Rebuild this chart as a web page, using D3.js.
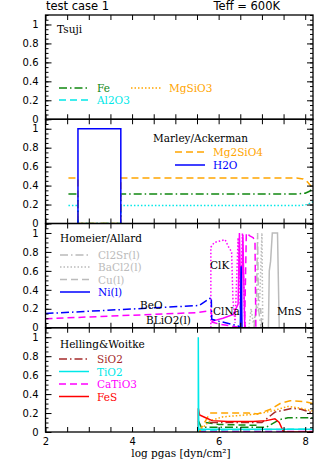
<!DOCTYPE html>
<html>
<head>
<meta charset="utf-8">
<script src="https://cdn.jsdelivr.net/npm/d3@7"></script>
<style>
  body { margin: 0; background: #fff; }
  svg text { font-family: "DejaVu Serif", serif; font-size: 10.5px; }
  .axis text { font-family: "DejaVu Sans", sans-serif; font-size: 10px; fill: #000; }
  .title { font-family: "DejaVu Sans", sans-serif; font-size: 11.5px; }
</style>
</head>
<body>
<div id="plot"></div>
<script>
const CANVAS_WIDTH  = 316;
const CANVAS_HEIGHT = 466;
const LEFT          = 45.5;
const RIGHT         = 313;
const TOP           = 15;
const PANEL_H       = 104.25;

// ticks
var xTicks      = d3.range(2, 8.01, 0.5);
var xTickLabels = [2, 4, 6, 8];
var yMajor      = [0, 0.2, 0.4, 0.6, 0.8, 1];
var yMinor      = d3.range(0, 1.101, 0.05);

// Marley/Ackerman  [log pgas, fraction]
var maMg2SiO4 = [[2.53,0.48],[2.75,0.48],[2.75,0],[3.74,0],[3.74,0.48],[7.8,0.48],[7.95,0.47],[8.05,0.44],[8.12,0.40],[8.18,0.37]];
var maFe      = [[2.53,0.31],[2.75,0.31],[2.75,0],[3.74,0],[3.74,0.31],[7.8,0.31],[8.0,0.32],[8.1,0.34],[8.18,0.37]];
var maAl2O3   = [[2.53,0.19],[2.75,0.19],[2.75,0],[3.74,0],[3.74,0.19],[7.9,0.19],[8.05,0.20],[8.18,0.23]];
var maH2O     = [[2.75,0],[2.75,1],[3.74,1],[3.74,0]];

// Homeier/Allard
var haBeO    = [[2,0.15],[5.55,0.235],[5.83,0.32],[5.84,0.09],[6.0,0.07],[6.45,0.02],[6.5,0]];
var haBLiO2  = [[2,0.095],[5.5,0.16],[5.83,0.18],[5.85,0.06],[6.0,0.04],[6.4,0.01],[6.5,0],[6.6,0],[6.64,1.0],[6.72,0.97],[6.8,0.95],[6.84,0.9],[6.86,0]];
var haClK    = [[5.82,0],[5.82,0.85],[5.9,0.9],[6.15,0.93],[6.22,0.86],[6.3,0.8],[6.33,0.3],[6.38,0.05],[6.45,0.95],[6.5,0.2],[6.55,1.0],[6.6,0.1],[6.62,0]];
var haClNa   = [[5.85,0.07],[6.1,0.1],[6.34,0.14],[6.45,0.25],[6.48,1.0],[6.52,0.1],[6.56,0.98],[6.6,0.05],[6.62,0]];
var haCl2Sr  = [[6.82,0],[6.87,0.2],[6.9,1.0],[6.92,0.2],[6.98,0]];
var haBaCl2  = [[6.7,0],[6.75,0.2],[6.8,0.05],[6.95,0.3],[7.0,1.0],[7.02,0]];
var haCu     = [[6.82,0],[6.86,0.2],[6.97,0.2],[7.0,0]];
var haMnS    = [[7.15,0],[7.17,0.6],[7.2,0.7],[7.24,1.0],[7.36,1.0],[7.4,0]];
var haNi     = [[2,0],[6.5,0],[6.52,0.65],[6.54,0],[8.18,0]];

// Helling&Woitke
var hwTiO2    = [[5.53,0],[5.53,1.0],[5.54,0.03],[8.18,0.03]];
var hwAl2O3   = [[5.55,0.02],[8.1,0.03]];
var hwCaTiO3  = [[5.55,0.005],[8.18,0.005]];
var hwFeS     = [[5.53,0],[5.53,0.25],[5.56,0.18],[5.7,0.15],[5.85,0.12],[6.2,0.11],[6.8,0.11],[7.1,0.12],[7.3,0.14],[7.4,0.1],[7.5,0],[8.18,0]];
var hwMg2SiO4 = [[5.55,0],[5.7,0.12],[5.8,0.2],[6.7,0.2],[6.9,0.19],[7.2,0.24],[7.42,0.3],[7.65,0.33],[8.0,0.32],[8.18,0.3]];
var hwMgSiO3  = [[5.6,0.03],[5.8,0.12],[6.1,0.16],[6.9,0.19],[7.3,0.23],[7.6,0.27],[7.9,0.25],[8.18,0.22]];
var hwSiO2    = [[5.8,0.1],[7.0,0.1],[7.3,0.21],[7.7,0.25],[7.9,0.24],[8.18,0.2]];
var hwFe      = [[5.53,0.12],[5.6,0.05],[7.1,0.05],[7.4,0.13],[7.6,0.15],[8.18,0.15]];
var hwFeDash  = [[5.7,0.1],[6.0,0.08],[6.9,0.07]];

const STYLE = {
    solid:   null,
    dashed:  "7,4",
    dotted:  "1.5,2",
    dashdot: "8,3,1.5,3"
};

var panels = [
    { name: "Tsuji", lx: 57, ly: 33,
      series: [],
      legend: [
        { text: "Fe",     color: "#118811", style: "dashdot", x: 59,  y: 88 },
        { text: "Al2O3",  color: "#00e8e8", style: "dashed",  x: 59,  y: 100 },
        { text: "MgSiO3", color: "#ffa500", style: "dotted",  x: 131, y: 88 }
      ],
      notes: [] },
    { name: "Marley/Ackerman", lx: 153, ly: 142,
      series: [
        { data: maAl2O3,   color: "#00e8e8", style: "dotted" },
        { data: maFe,      color: "#118811", style: "dashdot" },
        { data: maMg2SiO4, color: "#ffa500", style: "dashed" },
        { data: maH2O,     color: "#0000ff", style: "solid" }
      ],
      legend: [
        { text: "Mg2SiO4", color: "#ffa500", style: "dashed", x: 175, y: 152 },
        { text: "H2O",     color: "#0000ff", style: "solid",  x: 175, y: 165 }
      ],
      notes: [] },
    { name: "Homeier/Allard", lx: 60, ly: 242,
      series: [
        { data: haCl2Sr, color: "#bbbbbb", style: "dashdot" },
        { data: haBaCl2, color: "#bbbbbb", style: "dotted" },
        { data: haCu,    color: "#bbbbbb", style: "dashed" },
        { data: haMnS,   color: "#bbbbbb", style: "solid" },
        { data: haClK,   color: "#ff00ff", style: "dotted" },
        { data: haClNa,  color: "#ff00ff", style: "solid" },
        { data: haBLiO2, color: "#ff00ff", style: "dashed" },
        { data: haBeO,   color: "#0000ff", style: "dashdot" },
        { data: haNi,    color: "#0000ff", style: "solid" }
      ],
      legend: [
        { text: "Cl2Sr(l)", color: "#bbbbbb", style: "dashdot", x: 60, y: 255 },
        { text: "BaCl2(l)", color: "#bbbbbb", style: "dotted",  x: 60, y: 267 },
        { text: "Cu(l)",    color: "#bbbbbb", style: "dashed",  x: 60, y: 279.5 },
        { text: "Ni(l)",    color: "#0000ff", style: "solid",   x: 60, y: 292 }
      ],
      notes: [
        { text: "BeO",      x: 140, y: 309 },
        { text: "BLiO2(l)", x: 146, y: 324 },
        { text: "ClK",      x: 210, y: 269 },
        { text: "ClNa",     x: 213, y: 315 },
        { text: "MnS",      x: 277, y: 315 }
      ] },
    { name: "Helling&Woitke", lx: 60, ly: 348,
      series: [
        { data: hwCaTiO3,  color: "#ff00ff", style: "dashed" },
        { data: hwAl2O3,   color: "#00e8e8", style: "dashed" },
        { data: hwFeDash,  color: "#118811", style: "dashed" },
        { data: hwFe,      color: "#118811", style: "dashdot" },
        { data: hwSiO2,    color: "#a52a2a", style: "dashdot" },
        { data: hwMgSiO3,  color: "#ffa500", style: "dotted" },
        { data: hwMg2SiO4, color: "#ffa500", style: "dashed" },
        { data: hwFeS,     color: "#ff0000", style: "solid" },
        { data: hwTiO2,    color: "#00e8e8", style: "solid" }
      ],
      legend: [
        { text: "SiO2",   color: "#a52a2a", style: "dashdot", x: 59, y: 359 },
        { text: "TiO2",   color: "#00e8e8", style: "solid",   x: 59, y: 371.5 },
        { text: "CaTiO3", color: "#ff00ff", style: "dashed",  x: 59, y: 384 },
        { text: "FeS",    color: "#ff0000", style: "solid",   x: 59, y: 396.5 }
      ],
      notes: [] }
];

var svg = d3.select("#plot")
            .append("svg")
            .attr("width", CANVAS_WIDTH)
            .attr("height", CANVAS_HEIGHT);

var x_scale = d3.scaleLinear().domain([2, 8.18]).range([LEFT, RIGHT]);

svg.append("text").attr("class", "title")
   .attr("x", 46).attr("y", 10).text("test case 1");
svg.append("text").attr("class", "title")
   .attr("x", 280).attr("y", 10).attr("text-anchor", "end").text("Teff = 600K");

panels.forEach(function(p, i) {
    var top = TOP + i * PANEL_H;
    var bottom = top + PANEL_H;
    var y_scale = d3.scaleLinear().domain([0, 1.1]).range([bottom, top]);
    var g = svg.append("g");

    g.append("clipPath").attr("id", "clip" + i)
     .append("rect").attr("x", LEFT).attr("y", top)
     .attr("width", RIGHT - LEFT).attr("height", PANEL_H);

    var line = d3.line()
                 .x(function(d) { return x_scale(d[0]); })
                 .y(function(d) { return y_scale(d[1]); });

    // data lines
    g.append("g").attr("clip-path", "url(#clip" + i + ")")
     .selectAll("path")
     .data(p.series)
     .enter()
     .append("path")
     .attr("d", function(d) { return line(d.data); })
     .attr("fill", "none")
     .attr("stroke", function(d) { return d.color; })
     .attr("stroke-width", 1.5)
     .attr("stroke-dasharray", function(d) { return STYLE[d.style]; });

    // axes, ticks inward
    var isLast = i === panels.length - 1;
    var bottomAxis = d3.axisBottom(x_scale).tickValues(xTicks).tickSize(-5).tickPadding(6)
        .tickFormat(function(d) { return (isLast && xTickLabels.indexOf(d) >= 0) ? d : ""; });
    g.append("g").attr("class", "axis")
     .attr("transform", "translate(0," + bottom + ")").call(bottomAxis);
    g.append("g").attr("class", "axis")
     .attr("transform", "translate(0," + top + ")")
     .call(d3.axisTop(x_scale).tickValues(xTicks).tickSize(-5).tickFormat(""));

    g.append("g").attr("class", "axis")
     .attr("transform", "translate(" + LEFT + ",0)")
     .call(d3.axisLeft(y_scale).tickValues(yMajor).tickSize(-6).tickPadding(7)
        .tickFormat(function(d) { return (d === 0 || d === 1) ? d : d3.format(".1f")(d); }));
    g.append("g").attr("class", "axis")
     .attr("transform", "translate(" + LEFT + ",0)")
     .call(d3.axisLeft(y_scale).tickValues(yMinor).tickSize(-3).tickFormat(""));
    g.append("g").attr("class", "axis")
     .attr("transform", "translate(" + RIGHT + ",0)")
     .call(d3.axisRight(y_scale).tickValues(yMajor).tickSize(-6).tickFormat(""));
    g.append("g").attr("class", "axis")
     .attr("transform", "translate(" + RIGHT + ",0)")
     .call(d3.axisRight(y_scale).tickValues(yMinor).tickSize(-3).tickFormat(""));

    g.selectAll(".axis .domain").remove();
    g.selectAll(".axis line").attr("stroke", "#000").attr("stroke-width", 1);

    g.append("rect")
     .attr("x", LEFT).attr("y", top)
     .attr("width", RIGHT - LEFT).attr("height", PANEL_H)
     .attr("fill", "none").attr("stroke", "#000").attr("stroke-width", 1.3);

    // panel name
    g.append("text").attr("x", p.lx).attr("y", p.ly).text(p.name);

    // legend
    p.legend.forEach(function(l) {
        g.append("line")
         .attr("x1", l.x).attr("x2", l.x + 30)
         .attr("y1", l.y).attr("y2", l.y)
         .attr("stroke", l.color).attr("stroke-width", 1.5)
         .attr("stroke-dasharray", STYLE[l.style]);
        g.append("text")
         .attr("x", l.x + 38).attr("y", l.y + 4)
         .attr("fill", l.color)
         .text(l.text);
    });

    p.notes.forEach(function(n) {
        g.append("text").attr("x", n.x).attr("y", n.y).text(n.text);
    });
});

svg.append("text")
   .attr("x", 181).attr("y", 457)
   .attr("text-anchor", "middle")
   .text("log pgas [dyn/cm²]");
</script>
</body>
</html>
